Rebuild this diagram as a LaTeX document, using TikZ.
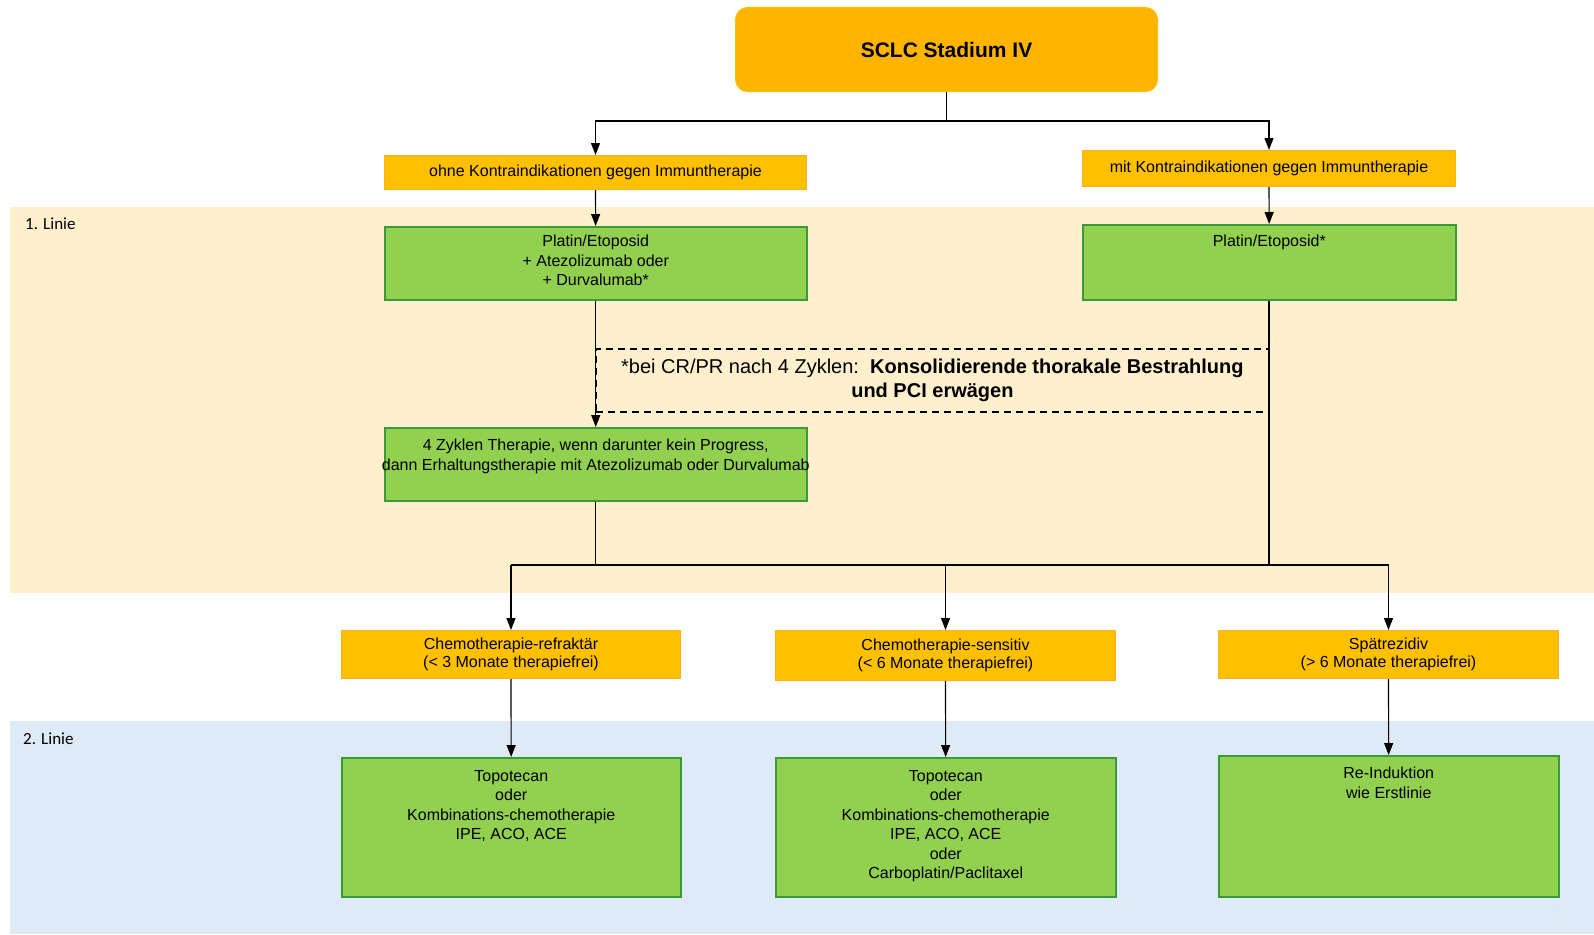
\documentclass[tikz,border=0pt]{standalone}
\usepackage{fontspec}
\setmainfont{Liberation Sans}
\newfontfamily\calibrilike{Carlito}
\usetikzlibrary{arrows.meta}
\definecolor{topor}{HTML}{FFB400}
\definecolor{topbd}{HTML}{FFC000}
\definecolor{orfill}{HTML}{FFC000}
\definecolor{orbd}{HTML}{FFB020}
\definecolor{grfill}{HTML}{92D050}
\definecolor{grbd}{HTML}{3A9A3A}
\definecolor{bandA}{HTML}{FFF0CD}
\definecolor{bandB}{HTML}{DEEAF6}
\tikzset{
  orbox/.style={draw=orbd, fill=orfill, line width=1pt, inner sep=0pt, align=center, font=\fontsize{16}{18.5}\selectfont},
  grbox/.style={draw=grbd, fill=grfill, line width=1.5pt, inner sep=0pt, align=center},
  boxtext/.style={inner sep=0pt, align=center, anchor=north, font=\fontsize{16}{19.5}\selectfont},
  conn/.style={line width=1.2pt, black},
  arr/.style={line width=1.2pt, black, -{Triangle[length=12pt,width=9pt]}},
  bandlabel/.style={inner sep=0pt, anchor=west, font=\calibrilike\fontsize{17}{19}\selectfont},
}
\begin{document}
\begin{tikzpicture}[x=1pt,y=-1pt]
\useasboundingbox (0,0) rectangle (1594,934);
\fill[white] (0,0) rectangle (1594,934);
% bands
\fill[bandA] (10,207) rectangle (1594,593);
\fill[bandB] (10,721) rectangle (1594,934);
\node[bandlabel] (l1) at (25,224) {1. Linie};
\node[bandlabel] (l2) at (23,739) {2. Linie};
% top
\node[draw=topbd, fill=topor, line width=1pt, rounded corners=12pt, minimum width=422, minimum height=84, anchor=north west, font=\bfseries\fontsize{21}{25}\selectfont] (top) at (735,7) {SCLC Stadium IV};
% second level
\node[orbox, minimum width=422, minimum height=34, anchor=north west] (ohne) at (384,155) {ohne Kontraindikationen gegen Immuntherapie};
\node[orbox, minimum width=373, minimum height=36, anchor=north west] (mit) at (1082,150) {mit Kontraindikationen gegen Immuntherapie};
% first line therapies
\node[grbox, minimum width=422, minimum height=73, anchor=north west] (platL) at (384,226) {};
\node[boxtext] (platLt) at ([yshift=-9]platL.north) {Platin/Etoposid\\+ Atezolizumab oder\\+ Durvalumab*};
\node[grbox, minimum width=373, minimum height=75, anchor=north west] (platR) at (1082,224) {};
\node[boxtext] (platRt) at ([yshift=-11]platR.north) {Platin/Etoposid*};
\node[grbox, minimum width=422, minimum height=73, anchor=north west] (zyk) at (384,427) {};
\node[boxtext] (zykt) at ([yshift=-12]zyk.north) {4 Zyklen Therapie, wenn darunter kein Progress,\\dann Erhaltungstherapie mit Atezolizumab oder Durvalumab};
% note
\node[draw, dash pattern=on 7pt off 5pt, line width=1.8pt, minimum width=673, minimum height=63, anchor=north west, inner sep=0pt, align=center, font=\fontsize{20}{24.5}\selectfont] (note) at (595,348) {*bei CR/PR nach 4 Zyklen:\ \ \textbf{Konsolidierende thorakale Bestrahlung}\\\textbf{und PCI erwägen}};
% relapse categories
\node[orbox, minimum width=339, minimum height=48, anchor=north west] (refr) at (341,630) {Chemotherapie-refraktär\\(< 3 Monate therapiefrei)};
\node[orbox, minimum width=340, minimum height=50, anchor=north west] (sens) at (775,630) {Chemotherapie-sensitiv\\(< 6 Monate therapiefrei)};
\node[orbox, minimum width=340, minimum height=48, anchor=north west] (spat) at (1218,630) {Spätrezidiv\\(> 6 Monate therapiefrei)};
% second line therapies
\node[grbox, minimum width=339, minimum height=139, anchor=north west] (topoA) at (341,757) {};
\node[boxtext] (topoAt) at ([yshift=-13]topoA.north) {Topotecan\\oder\\Kombinations-chemotherapie\\IPE, ACO, ACE};
\node[grbox, minimum width=340, minimum height=139, anchor=north west] (topoB) at (775,757) {};
\node[boxtext] (topoBt) at ([yshift=-13]topoB.north) {Topotecan\\oder\\Kombinations-chemotherapie\\IPE, ACO, ACE\\oder\\Carboplatin/Paclitaxel};
\node[grbox, minimum width=340, minimum height=141, anchor=north west] (reind) at (1218,755) {};
\node[boxtext] (reindt) at ([yshift=-12]reind.north) {Re-Induktion\\wie Erstlinie};
% connectors
\coordinate (j1) at (946,121);
\coordinate (hy) at (0,565);
\draw[conn] (top.south) -- (top.south |- j1);
\draw[arr] (top.south |- j1) -| (ohne.north);
\draw[arr] (top.south |- j1) -| (mit.north);
\draw[arr] (ohne) -- (platL);
\draw[arr] (mit) -- (platR);
\draw[arr] (platL) -- (zyk);
\draw[conn] (zyk.south) -- (zyk.south |- hy);
\draw[line width=2pt] (platR.south) -- (platR.south |- hy);
\draw[line width=1.6pt] (refr.north |- hy) -- (spat.north |- hy);
\draw[arr] (refr.north |- hy) -- (refr.north);
\draw[arr] (sens.north |- hy) -- (sens.north);
\draw[arr] (spat.north |- hy) -- (spat.north);
\draw[arr] (refr) -- (topoA);
\draw[arr] (sens) -- (topoB);
\draw[arr] (spat) -- (reind);
\end{tikzpicture}
\end{document}
